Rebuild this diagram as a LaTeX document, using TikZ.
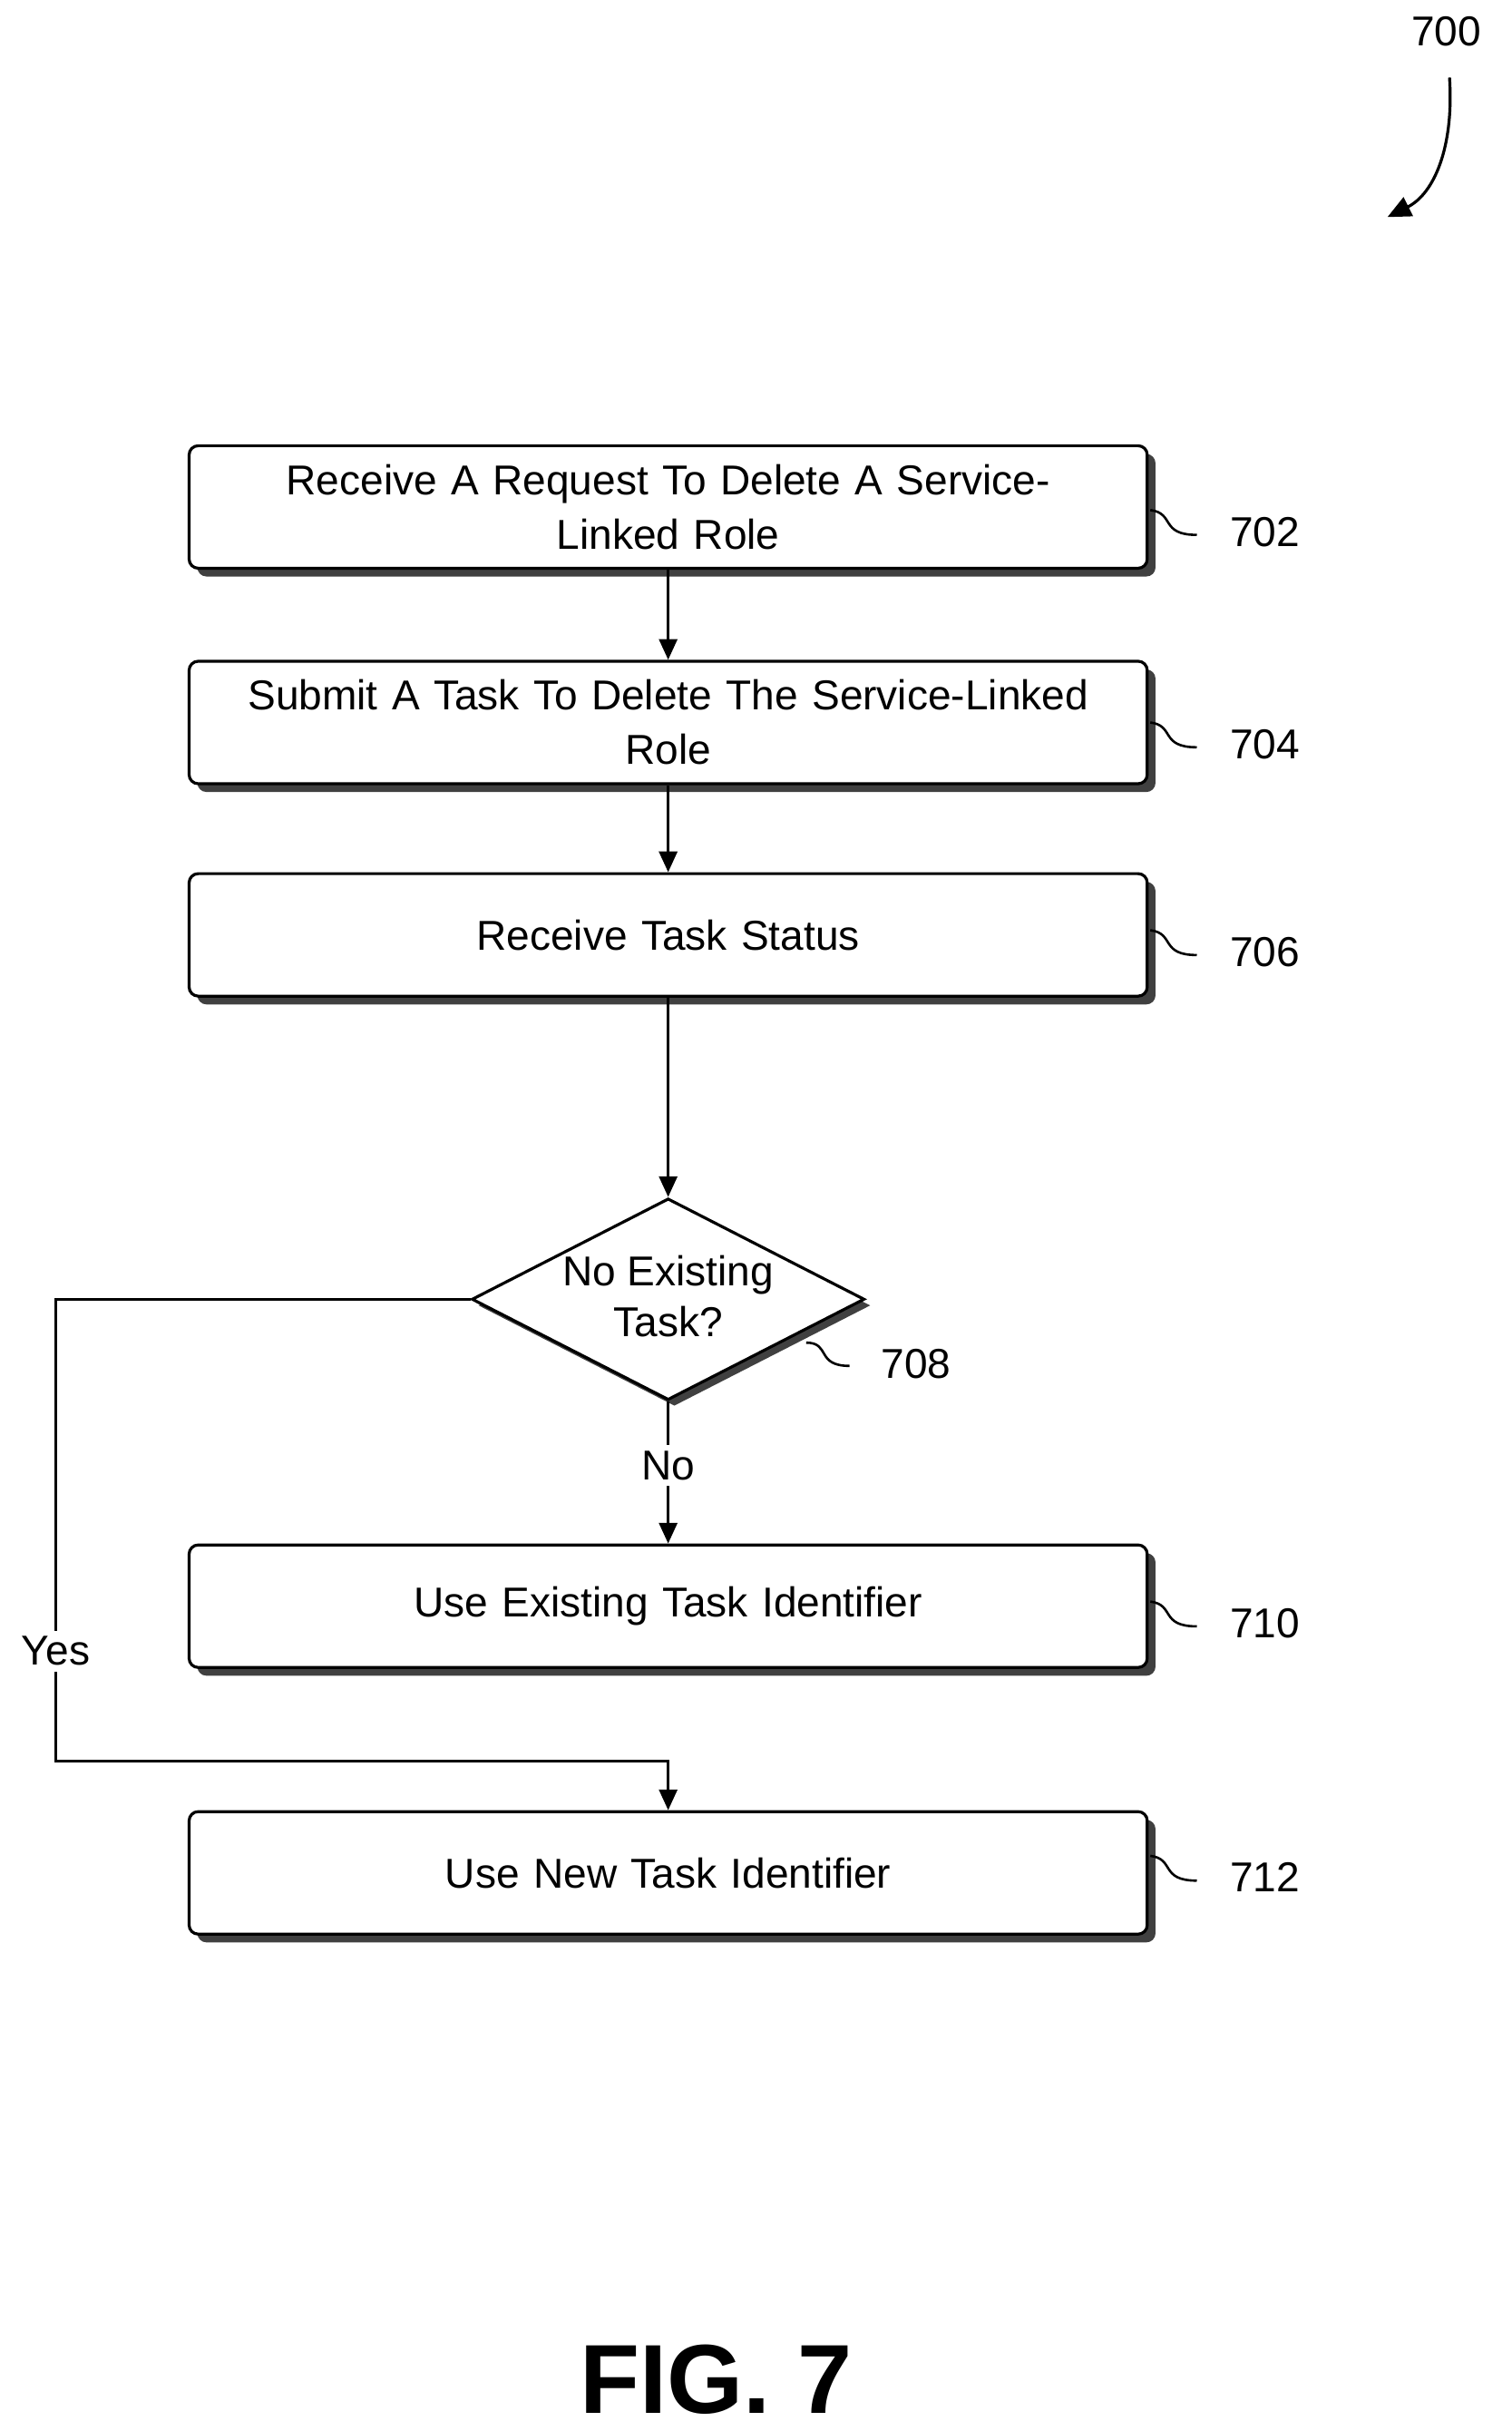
\documentclass[tikz,border=0pt]{standalone}
\usepackage{fontspec}
\setmainfont{Liberation Sans}
\usetikzlibrary{shapes.geometric,shadows,arrows.meta,decorations.pathmorphing}
\begin{document}
\begin{tikzpicture}[x=0.03cm,y=-0.03cm,
  box/.style={draw,line width=1.6pt,rounded corners=5pt,fill=white,minimum width=18.54cm,minimum height=2.37cm,align=center,font=\fontsize{23}{30}\selectfont,text width=18cm,
    drop shadow={shadow xshift=0.16cm,shadow yshift=-0.16cm,fill=black!75,opacity=1}},
  lab/.style={font=\fontsize{23}{28}\selectfont},
  arr/.style={line width=1.6pt,-{Triangle[length=0.4cm,width=0.35cm]}},
  sq/.style={line width=1.3pt}]
\useasboundingbox (0,0) rectangle (975,1568);
\node[box] (b702) at (431,327) {Receive A Request To Delete A Service-\\Linked Role};
\node[box] (b704) at (431,466) {Submit A Task To Delete The Service-Linked\\Role};
\node[box] (b706) at (431,603) {Receive Task Status};
\node[box] (b710) at (431,1036) {Use Existing Task Identifier};
\node[box] (b712) at (431,1208) {Use New Task Identifier};
\node[draw,line width=1.6pt,diamond,aspect=1.95,minimum width=7.6cm,minimum height=3.9cm,inner sep=0pt,fill=white,
  drop shadow={shadow xshift=0.12cm,shadow yshift=-0.12cm,fill=black!75,opacity=1}] (d708) at (431,838) {};
\node[lab,align=center] at (431,836) {No Existing\\Task?};
\draw[arr] (b702) -- (b704);
\draw[arr] (b704) -- (b706);
\draw[arr] (b706) -- (d708);
\draw[arr] (d708) -- node[lab,fill=white,pos=0.45]{No} (b710);
\coordinate (c1) at (36,838); \coordinate (c2) at (36,1136); \coordinate (c3) at (431,1136);
\draw[arr] (d708.west) -- (c1) -- (c2) -- (c3) -- (b712);
\node[lab,fill=white] at (36,1065) {Yes};
% reference labels
\foreach \n/\y in {702/343,704/480,706/614,710/1047,712/1211}{
  \node[lab] (l\n) at (816,\y) {\n};
  \draw[sq] (742,\y-14) .. controls (758,\y-12) and (748,\y+2) .. (772,\y+2);
}
\node[lab] (l708) at (591,880) {708};
\draw[sq] (520,866) .. controls (536,866) and (526,881) .. (548,881);
\node[lab] (l700) at (933,20) {700};
\coordinate (a700) at (895,140);
\draw[line width=1.6pt,-{Triangle[length=0.45cm,width=0.4cm]}] (935,50) .. controls (938,95) and (925,125) .. (a700);
\node[font=\bfseries\fontsize{54}{60}\selectfont] (fig) at (462,1535) {FIG. 7};
\end{tikzpicture}
\end{document}
